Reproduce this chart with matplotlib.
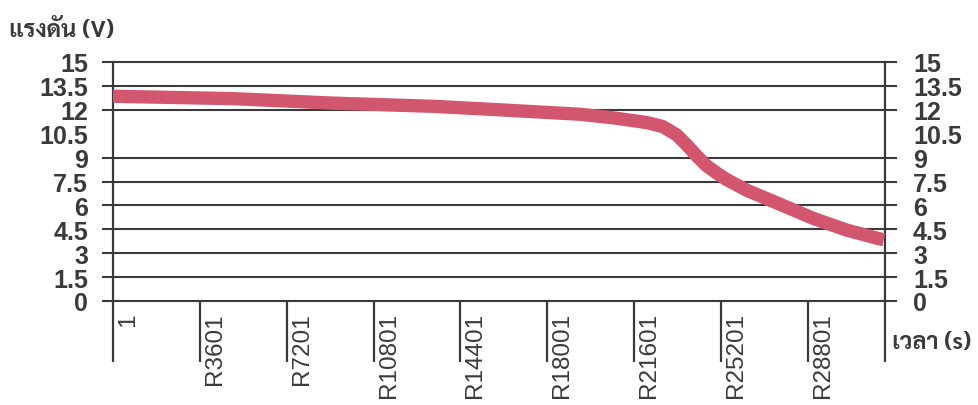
import matplotlib
matplotlib.use('Agg')
import matplotlib.pyplot as plt
import matplotlib.transforms as mtransforms

# battery voltage over time (sample index)
sample = [1, 4970, 9110, 13250, 16030, 19350, 20715, 22120, 22790, 23370,
          23780, 24200, 24610, 25150, 25440, 26270, 27760, 29000, 30410, 31780, 31950]
voltage = [12.85, 12.7, 12.42, 12.22, 12.0, 11.72, 11.5, 11.2, 10.95, 10.42,
           9.8, 9.1, 8.48, 7.9, 7.62, 6.95, 6.0, 5.2, 4.45, 3.9, 3.85]

x_ticks = [1, 3601, 7201, 10801, 14401, 18001, 21601, 25201, 28801]
x_labels = ['1', 'R3601', 'R7201', 'R10801', 'R14401', 'R18001',
            'R21601', 'R25201', 'R28801']
x_end = 32000
y_ticks = [0, 1.5, 3, 4.5, 6, 7.5, 9, 10.5, 12, 13.5, 15]
y_labels = ['0', '1.5', '3', '4.5', '6', '7.5', '9', '10.5', '12', '13.5', '15']
grid_vals = [0, 1.5, 3, 4.5, 6, 7.5, 9, 12, 13.5, 15]   # 10.5 line is not visible in the scan

ylabel = 'แรงดัน (V)'
xlabel = 'เวลา (s)'

ink = '#3a3a3a'
thai = ['Sarabun', 'DejaVu Sans']

fig = plt.figure(figsize=(9.79, 4.06), dpi=100)
ax = fig.add_axes([113/979, 1-302/406, (885-113)/979, (302-63)/406])

ax.plot(sample, voltage, color='#d2566e', lw=9.6, solid_capstyle='butt',
        solid_joinstyle='round', zorder=3)

ax.set_xlim(1, x_end)
ax.set_ylim(0, 15)

for g in grid_vals:
    ax.hlines(g, -0.0145, 1.0155, transform=ax.get_yaxis_transform(), colors=ink,
              lw=1.5, clip_on=False, zorder=2)

for s in ['top', 'bottom']:
    ax.spines[s].set_visible(False)
for s in ['left', 'right']:
    ax.spines[s].set_color(ink)
    ax.spines[s].set_linewidth(1.6)

ax.set_yticks(y_ticks)
ax.set_yticklabels(y_labels)
ax.tick_params(axis='y', length=0, left=True, right=True, labelleft=True,
               labelright=True, pad=0)
for lab in ax.get_yticklabels():
    lab.set_fontfamily(['Liberation Sans', 'DejaVu Sans'])
    lab.set_fontweight('bold')
    lab.set_fontsize(18)
    lab.set_color(ink)
# push label columns out to where they sit in the reference
off_l = mtransforms.ScaledTranslation(-25/100, 0, fig.dpi_scale_trans)
off_r = mtransforms.ScaledTranslation(28/100, 0, fig.dpi_scale_trans)
for t in ax.yaxis.get_major_ticks():
    t.label1.set_transform(t.label1.get_transform() + off_l)
    t.label2.set_transform(t.label2.get_transform() + off_r)

# category tick marks hang below the axis, labels sit right of each mark
ax.xaxis.remove_overlapping_locs = False
ax.set_xticks(x_ticks + [x_end], minor=True)
ax.tick_params(axis='x', which='minor', length=44, width=1.6, color=ink, direction='out')
ax.set_xticks(x_ticks)
ax.set_xticklabels(x_labels, rotation=90, ha='left', va='top')
ax.tick_params(axis='x', which='major', length=0, pad=8)
off_x = mtransforms.ScaledTranslation(4/100, 0, fig.dpi_scale_trans)
for lab in ax.get_xticklabels():
    lab.set_fontfamily(['Liberation Sans', 'DejaVu Sans'])
    lab.set_fontsize(17.5)
    lab.set_color(ink)
    lab.set_transform(lab.get_transform() + off_x)

fig.text(9/979, 1-30/406, ylabel, ha='left', va='center', fontsize=17,
         fontweight='bold', family=thai, color=ink)
fig.text(892/979, 1-343/406, xlabel, ha='left', va='center', fontsize=17,
         fontweight='bold', family=thai, color=ink)

fig.savefig('out.png', dpi=100)
